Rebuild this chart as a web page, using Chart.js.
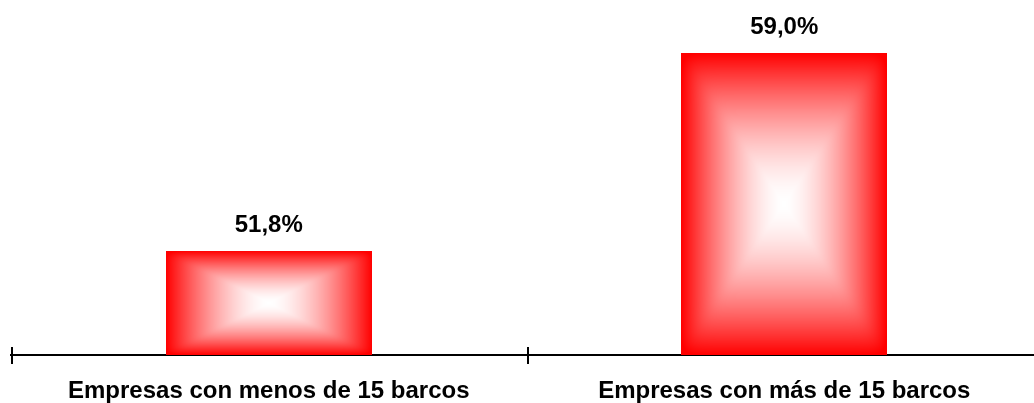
<!DOCTYPE html>
<html>
<head>
<meta charset="utf-8">
<script src="https://cdn.jsdelivr.net/npm/chart.js@4/dist/chart.umd.min.js"></script>
<style>
  html, body { margin: 0; padding: 0; background: #ffffff; overflow: hidden; }
  #wrap { width: 1034px; height: 403px; overflow: hidden; }
  canvas { display: block; }
</style>
</head>
<body>
<div id="wrap"><canvas id="chart" width="1044" height="403"></canvas></div>
<script>
// Share of companies, by fleet size
const categories = ['Empresas con menos de 15 barcos', 'Empresas con más de 15 barcos'];
const values = [51.8, 59.0];
const valueLabels = ['51,8%', '59,0%'];

const FONT = '"Liberation Sans", Arial, sans-serif';

// Rectangular "from centre" fill: concentric rectangles shrinking towards
// the middle of the bar, red on the outline, white at the centre.
function boxGradientImage(w, h) {
  const c = document.createElement('canvas');
  c.width = w; c.height = h;
  const g = c.getContext('2d');
  const img = g.createImageData(w, h);
  const hw = w / 2, hh = h / 2;
  for (let j = 0; j < h; j++) {
    for (let i = 0; i < w; i++) {
      const dx = Math.abs(i + 0.5 - hw) / hw;
      const dy = Math.abs(j + 0.5 - hh) / hh;
      const t = Math.min(1, Math.pow(Math.pow(dx, 18) + Math.pow(dy, 18), 1 / 18));
      const v = Math.round(255 * (1 - Math.pow(t, 1.6)));
      const k = (j * w + i) * 4;
      img.data[k] = 255;
      img.data[k + 1] = v;
      img.data[k + 2] = v;
      img.data[k + 3] = 255;
    }
  }
  g.putImageData(img, 0, 0);
  return c;
}

const barFillPlugin = {
  id: 'barFill',
  afterDatasetsDraw(chart) {
    const ctx = chart.ctx;
    const area = chart.chartArea;
    const meta = chart.getDatasetMeta(0);
    meta.data.forEach((bar, i) => {
      const left = Math.round(bar.x - bar.width / 2);
      const right = Math.round(bar.x + bar.width / 2);
      const top = Math.round(bar.y);
      const bottom = Math.round(Math.min(bar.base, area.bottom));
      ctx.drawImage(boxGradientImage(right - left, bottom - top), left, top);

      ctx.save();
      ctx.font = 'bold 24px ' + FONT;
      ctx.fillStyle = '#000000';
      ctx.textAlign = 'center';
      ctx.textBaseline = 'alphabetic';
      ctx.fillText(valueLabels[i], bar.x, bar.y - 19);
      ctx.restore();
    });
  },
  afterDraw(chart) {
    // tick marks crossing the axis line at the category boundaries
    const x = chart.scales.x;
    const y0 = chart.chartArea.bottom;
    const ctx = chart.ctx;
    ctx.save();
    ctx.strokeStyle = '#000000';
    ctx.lineWidth = 2;
    for (let i = 0; i <= categories.length; i++) {
      const px = Math.round(x.getPixelForValue(i - 0.5)) + 1;
      ctx.beginPath();
      ctx.moveTo(px, y0 - 8);
      ctx.lineTo(px, y0 + 9);
      ctx.stroke();
    }
    ctx.restore();
  }
};

new Chart(document.getElementById('chart'), {
  type: 'bar',
  data: {
    labels: categories,
    datasets: [{
      data: values,
      backgroundColor: 'rgba(0,0,0,0)',
      borderWidth: 0,
      barPercentage: 0.8,
      categoryPercentage: 0.5
    }]
  },
  plugins: [barFillPlugin],
  options: {
    responsive: false,
    animation: false,
    events: [],
    layout: { padding: { left: 11, right: 2, top: 26, bottom: 0 } },
    plugins: { legend: { display: false }, tooltip: { enabled: false } },
    scales: {
      x: {
        z: 1,
        grid: { display: false, drawTicks: false },
        border: { display: true, color: '#000000', width: 2 },
        afterFit(scale) { scale.height = 48; },
        ticks: {
          color: '#000000',
          padding: 22,
          maxRotation: 0,
          autoSkip: false,
          font: { family: FONT, size: 24, weight: 'bold' }
        }
      },
      y: {
        display: false,
        min: 48,
        max: 60
      }
    }
  }
});
</script>
</body>
</html>
